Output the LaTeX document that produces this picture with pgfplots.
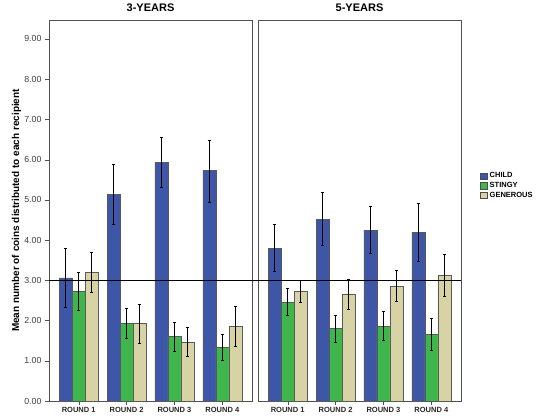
\documentclass[border=0pt]{standalone}
\usepackage{pgfplots}
\pgfplotsset{compat=1.18}
\usepackage{fontspec}
\setmainfont{Liberation Sans}
\definecolor{cblue}{HTML}{3D56A8}
\definecolor{cgreen}{HTML}{3EB64B}
\definecolor{ctan}{HTML}{D8D3A4}
\definecolor{axgray}{HTML}{505050}
\pgfplotsset{
  panel/.style={
    at={(#1,17pt)}, anchor=south west,
    scale only axis, width=203pt, height=381pt,
    xmin=0.38, xmax=4.62, ymin=0, ymax=9.47,
    ybar=0pt, bar width=13pt,
    axis line style={axgray},
    xtick={1,2,3,4},
    xticklabels={ROUND 1,ROUND 2,ROUND 3,ROUND 4},
    xticklabel style={font=\bfseries\fontsize{7.5}{8}\selectfont, color=black!85, yshift=1pt},
    tick align=outside, major tick length=4pt,
    tick style={axgray},
    xtick pos=bottom, ytick pos=left,
    title style={at={(0.5,1)}, anchor=south, yshift=-1.5pt, font=\bfseries\fontsize{11}{12}\selectfont},
    /pgf/number format/assume math mode=true,
    every axis plot/.append style={draw=black!65, line width=0.5pt},
    error bars/y dir=both, error bars/y explicit,
    error bars/error bar style={black, line width=1pt},
    error bars/error mark options={rotate=90, mark size=1.6pt, black, line width=0.6pt},
    clip=false,
  },
}
\begin{document}
\begin{tikzpicture}
\path[use as bounding box] (0,0) rectangle (537pt,418pt);
% ---------- 3-YEARS ----------
\begin{axis}[panel=49pt, title={3-YEARS},
  ytick={0,1,...,9},
  /pgf/number format/fixed, /pgf/number format/fixed zerofill, /pgf/number format/precision=2,
  yticklabel style={font=\fontsize{8.8}{9}\selectfont, color=black!75},
  ylabel={Mean number of coins distributed to each recipient},
  ylabel style={at={(axis description cs:-0.16,0.5)}, anchor=center, font=\bfseries\fontsize{10}{11}\selectfont},
]
\addplot[fill=cblue] coordinates {
 (1,3.06) += (0,0.73) -= (0,0.74)
 (2,5.13) += (0,0.75) -= (0,0.73)
 (3,5.93) += (0,0.63) -= (0,0.63)
 (4,5.73) += (0,0.76) -= (0,0.78)};
\addplot[fill=cgreen] coordinates {
 (1,2.72) += (0,0.48) -= (0,0.46)
 (2,1.93) += (0,0.38) -= (0,0.38)
 (3,1.60) += (0,0.36) -= (0,0.36)
 (4,1.33) += (0,0.34) -= (0,0.33)};
\addplot[fill=ctan] coordinates {
 (1,3.20) += (0,0.49) -= (0,0.50)
 (2,1.93) += (0,0.48) -= (0,0.49)
 (3,1.46) += (0,0.36) -= (0,0.34)
 (4,1.86) += (0,0.50) -= (0,0.49)};
\draw[black, line width=0.7pt] (axis cs:0.38,3) -- ([xshift=6pt]axis cs:4.62,3);
\end{axis}
% ---------- 5-YEARS ----------
\begin{axis}[panel=258pt, title={5-YEARS},
  ytick=\empty,
  legend style={at={(1,0.605)}, anchor=north west, xshift=19pt, draw=none, fill=none,
    font=\bfseries\fontsize{7.5}{8}\selectfont, inner sep=0pt, row sep=-1.2pt,
    /tikz/every even column/.append style={column sep=1pt}},
  legend cell align=left,
  legend image code/.code={\draw[#1, draw=black!70, line width=0.5pt] (0pt,-3.3pt) rectangle (7pt,3.3pt);},
]
\addplot[fill=cblue] coordinates {
 (1,3.80) += (0,0.58) -= (0,0.58)
 (2,4.52) += (0,0.67) -= (0,0.64)
 (3,4.25) += (0,0.60) -= (0,0.58)
 (4,4.20) += (0,0.71) -= (0,0.72)};
\addlegendentry{CHILD}
\addplot[fill=cgreen] coordinates {
 (1,2.46) += (0,0.34) -= (0,0.34)
 (2,1.80) += (0,0.34) -= (0,0.35)
 (3,1.86) += (0,0.36) -= (0,0.36)
 (4,1.66) += (0,0.40) -= (0,0.40)};
\addlegendentry{STINGY}
\addplot[fill=ctan] coordinates {
 (1,2.73) += (0,0.27) -= (0,0.27)
 (2,2.66) += (0,0.37) -= (0,0.37)
 (3,2.86) += (0,0.40) -= (0,0.38)
 (4,3.13) += (0,0.52) -= (0,0.52)};
\addlegendentry{GENEROUS}
\draw[black, line width=0.7pt] (axis cs:0.38,3) -- (axis cs:4.62,3);
\end{axis}
\end{tikzpicture}
\end{document}
